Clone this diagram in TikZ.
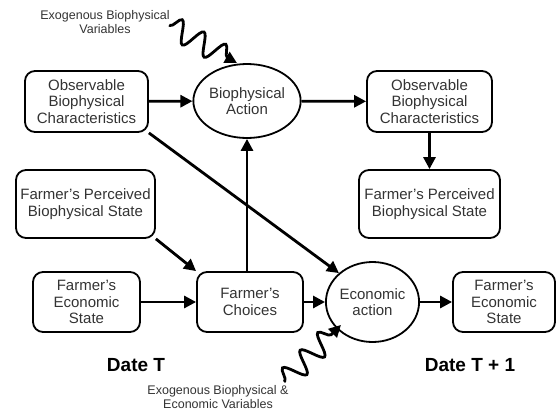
\documentclass[tikz,border=0pt]{standalone}
\usepackage{fontspec}
\setmainfont{Liberation Sans}
\usetikzlibrary{shapes.geometric,arrows.meta,decorations.pathmorphing}

\begin{document}
\begin{tikzpicture}[x=1pt,y=-1pt,
    box/.style={draw,line width=1.8pt,rounded corners=10pt,align=center,
        text=black!80,font=\fontsize{15}{16.5}\selectfont,inner sep=2pt},
    act/.style={draw,ellipse,line width=1.8pt,align=center,
        text=black!80,font=\fontsize{15}{16.5}\selectfont,inner sep=0pt},
    lbl/.style={align=center,text=black!80,font=\fontsize{12.5}{14}\selectfont},
    datelbl/.style={font=\fontsize{19}{22}\selectfont\bfseries},
    arr/.style={line width=2.8pt,-{Triangle[length=12pt,width=12pt]}},
    wavy/.style={arr,decorate,decoration={snake,segment length=25pt,
        amplitude=11pt,pre length=1pt,post length=11pt}}]

\useasboundingbox (0,0) rectangle (556,410);

% Date T boxes
\node[box,minimum width=123pt,minimum height=61pt] (obcT) at (86.5,101.5)
    {Observable\\Biophysical\\Characteristics};
\node[box,minimum width=139pt,minimum height=68pt] (fpbsT) at (85.5,204)
    {Farmer's Perceived\\Biophysical State};
\node[box,minimum width=107pt,minimum height=60pt] (fesT) at (86.5,302)
    {Farmer's\\Economic\\State};
\node[box,minimum width=106pt,minimum height=60pt] (choice) at (250,302)
    {Farmer's\\Choices};

% actions
\node[act,minimum width=89pt,minimum height=74pt] (bioact) at (247,101)
    {Biophysical\\Action};
\node[act,minimum width=87pt,minimum height=80pt] (ecoact) at (372.5,302)
    {Economic\\action};

% Date T + 1 boxes
\node[box,minimum width=125pt,minimum height=61pt] (obcN) at (429.5,101.5)
    {Observable\\Biophysical\\Characteristics};
\node[box,minimum width=141pt,minimum height=68pt] (fpbsN) at (429.5,204)
    {Farmer's Perceived\\Biophysical State};
\node[box,minimum width=102pt,minimum height=60pt] (fesN) at (504,302)
    {Farmer's\\Economic\\State};

% labels
\node[datelbl] (dateT) at (136,365) {Date T};
\node[datelbl] (dateN) at (470,365) {Date T + 1};
\node[lbl] (exoBio) at (105,22) {Exogenous Biophysical\\Variables};
\node[lbl] (exoEco) at (218,397) {Exogenous Biophysical \&\\Economic Variables};

% connectors
\draw[arr] (obcT) -- (bioact);
\draw[arr] (bioact) -- (obcN);
\draw[arr] (obcN) -- (fpbsN);
\draw[arr] (obcT.south east) -- (ecoact.north west);
\draw[arr] (fpbsT.south east) -- (choice.north west);
\draw[arr] (fesT) -- (choice);
\draw[arr] (bioact.south |- choice.north) -- (bioact.south);
\draw[arr] (choice) -- (ecoact);
\draw[arr] (ecoact) -- (fesN);

% exogenous shocks
\draw[wavy] ([xshift=-4pt,yshift=-3pt]exoBio.east) -- ([xshift=-10pt]bioact.north);
\draw[wavy] ([xshift=-8pt]exoEco.north east) -- ([xshift=2pt,yshift=6pt]ecoact.south west);

\end{tikzpicture}
\end{document}
